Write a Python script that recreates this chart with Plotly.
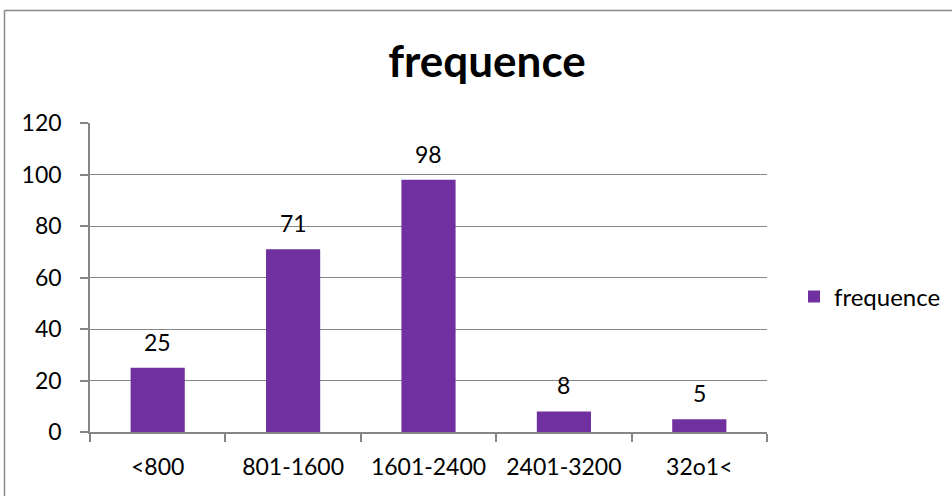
import plotly.graph_objects as go

# Frequency counts per range
categories = ["<800", "801-1600", "1601-2400", "2401-3200", "32o1<"]
frequence = [25, 71, 98, 8, 5]
y_ticks = [0, 20, 40, 60, 80, 100, 120]

W, H = 952, 496
L, R, T, B = 90, 185, 123, 64
pw, ph = W - L - R, H - T - B

PURPLE = "#7030A0"
GRID = "#868686"
FONT = "Lato, 'Open Sans', sans-serif"

fig = go.Figure()
fig.add_trace(go.Bar(
    x=categories,
    y=frequence,
    name="frequence",
    marker=dict(color=PURPLE, line=dict(width=0)),
    width=0.4,
))

# Value labels above each bar
for cat, val in zip(categories, frequence):
    fig.add_annotation(
        x=cat, y=val, text=str(val), showarrow=False,
        yshift=26, yanchor="middle", xanchor="center",
        font=dict(size=23, family=FONT, color="#000000"),
    )

# Chart frame (left and top edges)
x_left = (4.5 - L) / pw
y_top = (H - B - 10.5) / ph
fig.add_shape(type="line", xref="paper", yref="paper",
              x0=x_left, x1=x_left, y0=(H - B - 500) / ph, y1=y_top,
              line=dict(color="#888888", width=1.5))
fig.add_shape(type="line", xref="paper", yref="paper",
              x0=x_left, x1=(960 - L) / pw, y0=y_top, y1=y_top,
              line=dict(color="#888888", width=1.5))

fig.update_layout(
    width=W, height=H,
    margin=dict(l=L, r=R, t=T, b=B, autoexpand=False),
    paper_bgcolor="white",
    plot_bgcolor="white",
    font=dict(family=FONT, size=23, color="#000000"),
    title=dict(
        text="<b>frequence</b>",
        x=(487 - L) / pw, xref="paper", xanchor="center",
        y=1 - 62 / H, yanchor="middle",
        font=dict(size=44, family=FONT, color="#000000"),
    ),
    showlegend=True,
    legend=dict(
        x=(794 - L) / pw, xanchor="left",
        y=(H - B - 297) / ph, yanchor="middle",
        font=dict(size=24, family=FONT),
        itemwidth=30,
        bgcolor="rgba(0,0,0,0)",
    ),
    bargap=0.6,
)

fig.update_xaxes(
    showgrid=False,
    showline=True, linecolor=GRID, linewidth=1.5,
    ticks="outside", ticklen=8, tickcolor=GRID, tickwidth=1.5,
    tickson="boundaries",
    tickfont=dict(size=23, family=FONT),
    ticklabelstandoff=14,
    range=[-0.5, 4.5],
)
fig.update_yaxes(
    range=[0, 120],
    tickvals=y_ticks,
    ticktext=[str(v) for v in y_ticks],
    showgrid=True, gridcolor=GRID, gridwidth=1,
    showline=True, linecolor=GRID, linewidth=1.5,
    ticks="outside", ticklen=8, tickcolor=GRID, tickwidth=1.5,
    tickfont=dict(size=23, family=FONT),
    ticklabelstandoff=14,
    zeroline=False,
)

fig.write_html("out.html")
